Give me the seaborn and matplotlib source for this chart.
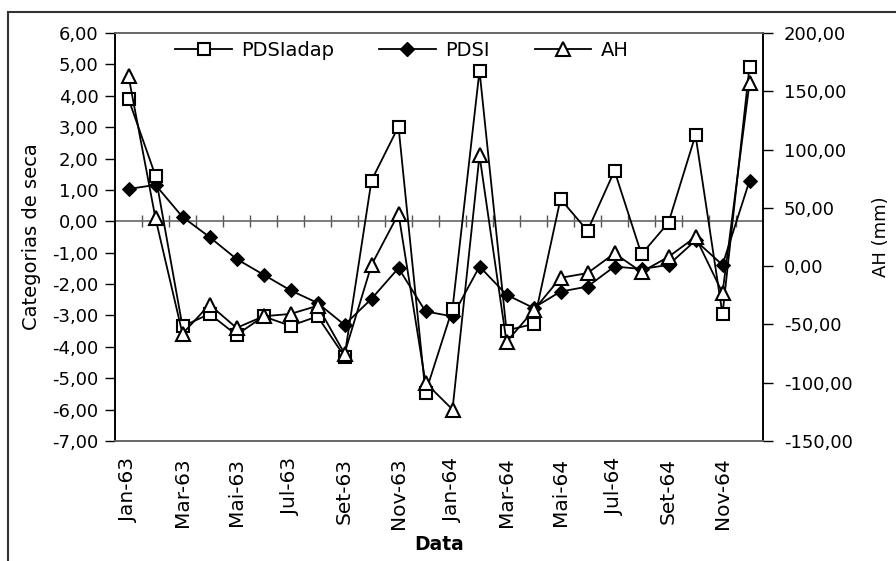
import matplotlib
matplotlib.use("Agg")
import matplotlib.pyplot as plt
import seaborn as sns
import numpy as np
import pandas as pd
from matplotlib.lines import Line2D
from matplotlib.patches import Rectangle
from matplotlib.ticker import FuncFormatter, FixedLocator

months = ["Jan-63", "Fev-63", "Mar-63", "Abr-63", "Mai-63", "Jun-63", "Jul-63", "Ago-63",
          "Set-63", "Out-63", "Nov-63", "Dez-63", "Jan-64", "Fev-64", "Mar-64", "Abr-64",
          "Mai-64", "Jun-64", "Jul-64", "Ago-64", "Set-64", "Out-64", "Nov-64", "Dez-64"]
pdsi_adap = [3.9, 1.45, -3.35, -2.95, -3.62, -3.03, -3.33, -3.03, -4.31, 1.3, 3.02, -5.47,
             -2.78, 4.8, -3.48, -3.27, 0.71, -0.3, 1.61, -1.05, -0.04, 2.75, -2.96, 4.93]
pdsi = [1.03, 1.16, 0.14, -0.5, -1.2, -1.7, -2.2, -2.6, -3.3, -2.47, -1.49, -2.87,
        -3.03, -1.44, -2.34, -2.76, -2.24, -2.08, -1.44, -1.52, -1.39, -0.61, -1.39, 1.29]
ah = [163, 41, -58, -33, -53, -43, -41, -34, -75, 1, 45, -100,
      -123, 95, -65, -38, -10, -6, 11, -5, 8, 25, -23, 157]
tick_labels = ["Jan-63", "Mar-63", "Mai-63", "Jul-63", "Set-63", "Nov-63",
               "Jan-64", "Mar-64", "Mai-64", "Jul-64", "Set-64", "Nov-64"]

plt.rcParams['font.family'] = ['DejaVu Sans']
W, H = 896, 561
fig = plt.figure(figsize=(W / 100, H / 100), dpi=100)
ax = fig.add_axes([115 / W, 1 - 441 / H, (763 - 115) / W, (441 - 33) / H])
ax2 = ax.twinx()

x = np.arange(len(months))
df = pd.DataFrame({"x": x, "pdsi_adap": pdsi_adap, "pdsi": pdsi, "ah": ah})

sq = dict(marker='s', markersize=9.3, markerfacecolor='white', markeredgecolor='black', markeredgewidth=1.5)
dm = dict(marker='D', markersize=7.5, markerfacecolor='black', markeredgecolor='black')
tr = dict(marker='^', markersize=9.5, markerfacecolor='white', markeredgecolor='black', markeredgewidth=1.5)

sns.lineplot(data=df, x="x", y="pdsi", ax=ax, color='black', linewidth=1.3, **dm)
sns.lineplot(data=df, x="x", y="pdsi_adap", ax=ax, color='black', linewidth=1.3, **sq)
sns.lineplot(data=df, x="x", y="ah", ax=ax2, color='black', linewidth=1.3, **tr)

ax.set_xlim(-0.5, len(months) - 0.5)
ax.set_ylim(-7, 6)
ax.set_yticks(np.arange(-7, 7, 1))
ax2.set_ylim(-150, 200)
ax2.set_yticks(np.arange(-150, 201, 50))
fmt = FuncFormatter(lambda v, p: f"{v:.2f}".replace('.', ','))
ax.yaxis.set_major_formatter(fmt)
ax2.yaxis.set_major_formatter(fmt)

ax.set_xticks(x[::2])
ax.set_xticklabels(tick_labels, rotation=90)
ax.tick_params(axis='x', length=0, pad=12, labelsize=14.5)
ax.tick_params(axis='y', length=7, width=1, direction='out', labelsize=13, pad=5, colors='black')
ax2.tick_params(axis='y', length=7, width=1, direction='out', labelsize=13, pad=8)

# zero line with category-boundary ticks
ax.axhline(0, color='#666666', linewidth=1.2, zorder=1)
sec = ax.secondary_xaxis(7 / 13)
sec.xaxis.set_major_locator(FixedLocator(np.arange(0.5, len(months) - 1, 1)))
sec.tick_params(axis='x', direction='inout', length=8, width=1, color='#555555', labelbottom=False, labeltop=False)
for s in sec.spines.values():
    s.set_visible(False)

for a in (ax, ax2):
    a.spines['top'].set_color('#666666')
    a.spines['bottom'].set_color('#666666')
    a.spines['left'].set_color('black')
    a.spines['right'].set_color('black')
    for s in a.spines.values():
        s.set_linewidth(1.2)
    a.set_facecolor('none')
    a.grid(False)

ax.set_xlabel("Data", fontsize=13.5, fontweight='bold', labelpad=4)
ax.set_ylabel("Categorias de seca", fontsize=14, labelpad=8)
ax2.set_ylabel("AH (mm)", fontsize=13, labelpad=14)

handles = [Line2D([], [], color='black', linewidth=1.3, **sq),
           Line2D([], [], color='black', linewidth=1.3, **dm),
           Line2D([], [], color='black', linewidth=1.3, **tr)]
leg = fig.legend(handles, ["PDSIadap", "PDSI", "AH"], loc='center', ncol=3, frameon=False,
                 bbox_to_anchor=(402 / W, 1 - 50 / H), bbox_transform=fig.transFigure,
                 fontsize=14, handlelength=2.9, handletextpad=0.5, columnspacing=2.3)

fig.patches.append(Rectangle((8 / W, -0.1), 1.2, 1 - 12 / H + 0.1, transform=fig.transFigure,
                             fill=False, edgecolor='#333333', linewidth=1.5))

fig.savefig("out.png", dpi=100)
